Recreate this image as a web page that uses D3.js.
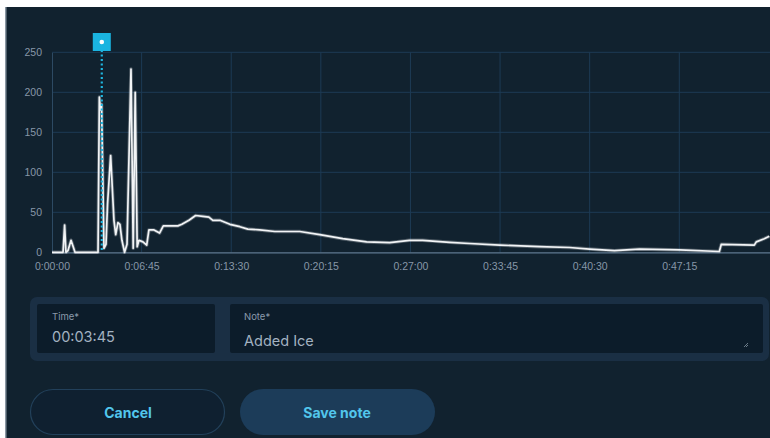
<!DOCTYPE html>
<html><head><meta charset="utf-8">
<script src="https://cdn.jsdelivr.net/npm/d3@7/dist/d3.min.js"></script>
<style>
html,body{margin:0;padding:0;background:#fff;}
svg{display:block;font-family:Inter, "Liberation Sans", sans-serif;}
</style></head><body>
<svg id="c" width="770" height="438"></svg>
<script>
// time in seconds
const times = [0,50,57,63,72,86,104,208,214,219,224,235,244,251,265,280,288,298,307,316,328,339,357,367,376,385,393,411,428,438,461,486,503,533,569,587,619,649,682,709,727,759,804,849,885,939,1007,1120,1210,1314,1422,1526,1616,1675,1797,1887,2023,2203,2339,2429,2542,2655,2835,3016,3025,3174,3183,3219,3242];
const values = [0,0,34,0,2,15,0,0,194,178,185,5,10,60,121,40,22,37,35,15,0,10,229,5,200,7,15,13,9,28,28,24,33,33,33,35,40,46,45,44,40,40,35,32,29,28,26,26,22,17,13,12,15,15,12.5,11,9,7,6,4,2,4,3,1,10,9,13,17,20];
const yTicks = [0,50,100,150,200,250];
const xTickSeconds = [0,405,810,1215,1620,2025,2430,2835];
const xTickLabels = ["0:00:00","0:06:45","0:13:30","0:20:15","0:27:00","0:33:45","0:40:30","0:47:15"];
const noteTime = 225;
const timeLabel = "Time*", timeValue = "00:03:45";
const noteLabel = "Note*", noteValue = "Added Ice";
const buttons = ["Cancel","Save note"];

const svg = d3.select("#c");
svg.append("rect").attr("x",0).attr("y",0).attr("width",770).attr("height",438).attr("fill","#ffffff");
svg.append("rect").attr("x",6).attr("y",7).attr("width",764).attr("height",431).attr("fill","#11222f");
svg.append("rect").attr("x",5).attr("y",7).attr("width",1.5).attr("height",431).attr("fill","#8a97a3");

const x = d3.scaleLinear().domain([0,3245]).range([52,770]);
const y = d3.scaleLinear().domain([0,250]).range([252.3,52.3]);

const g = svg.append("g");
g.append("g").selectAll("line").data(yTicks.slice(1)).join("line")
  .attr("x1",52).attr("x2",770).attr("y1",d=>y(d)).attr("y2",d=>y(d))
  .attr("stroke","#1d3b55").attr("stroke-width",1);
g.append("g").selectAll("line").data(xTickSeconds.slice(1)).join("line")
  .attr("x1",d=>x(d)).attr("x2",d=>x(d)).attr("y1",y(250)).attr("y2",y(0))
  .attr("stroke","#1d3b55").attr("stroke-width",1);

const yAxis = d3.axisLeft(y).tickValues(yTicks).tickSize(0).tickPadding(10);
const ya = g.append("g").attr("transform","translate(52,0)").call(yAxis);
ya.select(".domain").attr("stroke","#2d4a63");
ya.selectAll("text").attr("fill","#8797a8").attr("font-size",10.5).attr("font-family","Liberation Sans, Arial, sans-serif");

const xAxis = d3.axisBottom(x).tickValues(xTickSeconds).tickFormat((d,i)=>xTickLabels[i]).tickSize(0).tickPadding(10);
const xa = g.append("g").attr("transform",`translate(0,${y(0)})`).call(xAxis);
xa.select(".domain").attr("stroke","#5f7891").attr("stroke-width",1.2);
xa.selectAll("text").attr("fill","#8797a8").attr("font-size",10.5).attr("font-family","Liberation Sans, Arial, sans-serif");

const data = times.map((t,i)=>({t, v:values[i]}));
const line = d3.line().x(d=>x(d.t)).y(d=>y(d.v));
g.append("path").datum(data).attr("d",line).attr("fill","none")
  .attr("stroke","#ffffff").attr("stroke-opacity",0.25).attr("stroke-width",3.5).attr("stroke-linejoin","round");
g.append("path").datum(data).attr("d",line).attr("fill","none")
  .attr("stroke","#f2f4f6").attr("stroke-width",1.7).attr("stroke-linejoin","round");

const mx = x(noteTime);
g.append("line").attr("x1",mx).attr("x2",mx).attr("y1",50).attr("y2",y(0))
  .attr("stroke","#1fb6e0").attr("stroke-width",2.2).attr("stroke-dasharray","2,2.5");
g.append("rect").attr("x",mx-9).attr("y",33).attr("width",18).attr("height",18).attr("fill","#1ab4e0");
g.append("circle").attr("cx",mx).attr("cy",42).attr("r",2.3).attr("fill","#ffffff");

svg.append("rect").attr("x",30).attr("y",297).attr("width",739).attr("height",64).attr("rx",7).attr("fill","#1a2f44");
svg.append("rect").attr("x",37).attr("y",304).attr("width",178).attr("height",49).attr("rx",2).attr("fill","#0c1c2a");
svg.append("rect").attr("x",230).attr("y",304).attr("width",533).attr("height",49).attr("rx",2).attr("fill","#0c1c2a");
svg.append("text").attr("x",52).attr("y",320).text(timeLabel).attr("fill","#8a9aab").attr("font-size",9.5);
svg.append("text").attr("x",52).attr("y",342).text(timeValue).attr("fill","#a3b2c1").attr("font-size",14.5);
svg.append("text").attr("x",244).attr("y",320).text(noteLabel).attr("fill","#8a9aab").attr("font-size",9.5);
svg.append("text").attr("x",244).attr("y",346).text(noteValue).attr("fill","#a3b2c1").attr("font-size",14.5);
svg.append("path").attr("d","M744,347 L748,343 M746,347 L748,345").attr("stroke","#6b7b88").attr("stroke-width",1);

svg.append("rect").attr("x",30.5).attr("y",389.5).attr("width",194).attr("height",45).attr("rx",22.5)
  .attr("fill","#0f2030").attr("stroke","#22405a").attr("stroke-width",1.2);
svg.append("rect").attr("x",240).attr("y",389).attr("width",195).attr("height",46).attr("rx",23).attr("fill","#1c3c59");
svg.append("text").attr("x",128).attr("y",418).attr("text-anchor","middle").text(buttons[0])
  .attr("fill","#52c6ec").attr("font-size",14).attr("font-weight",700);
svg.append("text").attr("x",337).attr("y",418).attr("text-anchor","middle").text(buttons[1])
  .attr("fill","#52c6ec").attr("font-size",14).attr("font-weight",700);
</script></body></html>
